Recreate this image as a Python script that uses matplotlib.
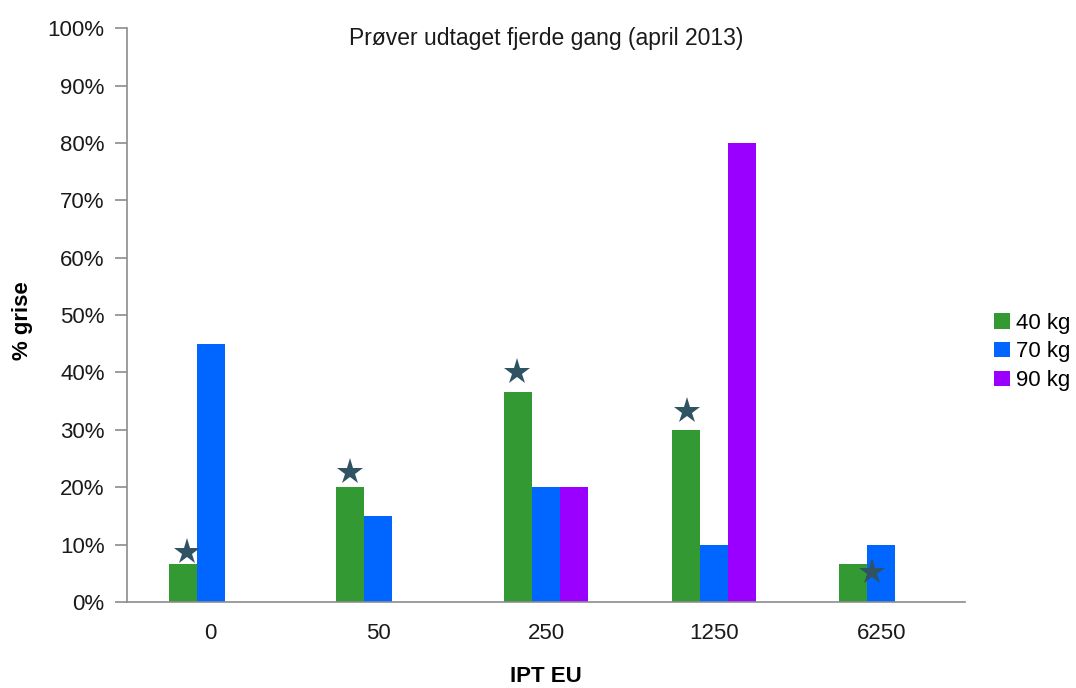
import matplotlib.pyplot as plt
import numpy as np

plt.rcParams["font.family"] = ["Liberation Sans", "DejaVu Sans"]

categories = ["0", "50", "250", "1250", "6250"]
series_names = ["40 kg", "70 kg", "90 kg"]
pct_40kg = [6.67, 20.0, 36.67, 30.0, 6.67]
pct_70kg = [45.0, 15.0, 20.0, 10.0, 10.0]
pct_90kg = [0.0, 0.0, 20.0, 80.0, 0.0]

# significance stars: height (%) and horizontal shift in bar widths
star_pct = [8.8, 22.6, 40.0, 33.3, 5.2]
star_shift = [-0.86, -1.0, -1.05, -0.96, -0.32]

colors = ["#339933", "#0066ff", "#9900ff"]
axis_grey = "#8c8c8c"

fig = plt.figure(figsize=(10.76, 6.88), dpi=100)
ax = fig.add_axes([0.118, 0.125, 0.779, 0.834])

x = np.arange(len(categories))
width = 0.167
for i, (vals, col, name) in enumerate(zip([pct_40kg, pct_70kg, pct_90kg], colors, series_names)):
    ax.bar(x + (i - 1) * width, vals, width=width, color=col, label=name, linewidth=0)

ax.plot(x + np.array(star_shift) * width, star_pct, linestyle="none", marker="*",
        markersize=20, color="#2f5363", markeredgewidth=0)

ax.set_xlim(-0.5, len(categories) - 0.5)
ax.set_ylim(0, 100)
ax.set_yticks(np.arange(0, 101, 10))
ax.set_yticklabels([f"{v}%" for v in range(0, 101, 10)])
ax.set_xticks(x)
ax.set_xticklabels(categories)

for side in ("top", "right"):
    ax.spines[side].set_visible(False)
for side in ("left", "bottom"):
    ax.spines[side].set_color(axis_grey)
    ax.spines[side].set_linewidth(1.2)
ax.tick_params(axis="y", colors=axis_grey, labelcolor="#1a1a1a", labelsize=16, length=9, width=1.2, pad=7)
ax.tick_params(axis="x", length=0, labelcolor="#1a1a1a", labelsize=16, pad=15)

ax.set_ylabel("% grise", fontsize=16, fontweight="bold")
ax.yaxis.set_label_coords(-0.125, 0.49)
ax.set_xlabel("IPT EU", fontsize=16, fontweight="bold")
ax.xaxis.set_label_coords(0.5, -0.13)
ax.xaxis.label.set_va("center")
ax.yaxis.label.set_va("center")
ax.text(0.5, 0.982, "Prøver udtaget fjerde gang (april 2013)", transform=ax.transAxes,
        ha="center", va="center", fontsize=16.5, color="#1a1a1a")

ax.legend(loc="center left", bbox_to_anchor=(1.024, 0.436), frameon=False, fontsize=16,
          handlelength=0.7, handleheight=0.7, handletextpad=0.3, labelspacing=0.35,
          borderaxespad=0)

fig.savefig("out.png", dpi=100)
